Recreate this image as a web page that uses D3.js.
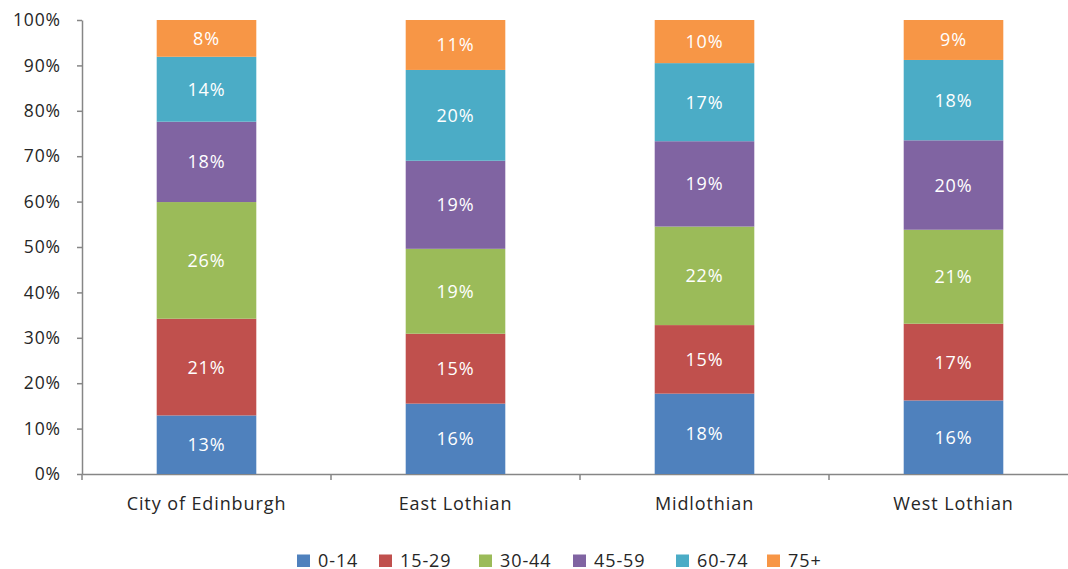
<!DOCTYPE html>
<html>
<head>
<meta charset="utf-8">
<script src="https://cdn.jsdelivr.net/npm/d3@7"></script>
<style>
  html, body { margin: 0; padding: 0; background: #fff; }
  svg { display: block; }
  text { font-family: "Open Sans", "DejaVu Sans", sans-serif; letter-spacing: 0.9px; }
</style>
</head>
<body>
<svg id="chart" width="1068" height="569"></svg>
<script>
const categories = ["City of Edinburgh", "East Lothian", "Midlothian", "West Lothian"];
const seriesNames = ["0-14", "15-29", "30-44", "45-59", "60-74", "75+"];
const colors = ["#4F81BD", "#C0504D", "#9BBB59", "#8064A2", "#4BACC6", "#F79646"];
// percentage share of each age band per area
const age0_14  = [12.9, 15.5, 17.7, 16.2];
const age15_29 = [21.3, 15.4, 15.1, 16.9];
const age30_44 = [25.7, 18.7, 21.7, 20.7];
const age45_59 = [17.7, 19.4, 18.8, 19.7];
const age60_74 = [14.3, 20.0, 17.2, 17.7];
const age75p   = [8.1, 11.0, 9.5, 8.8];
const yTicks = [0, 10, 20, 30, 40, 50, 60, 70, 80, 90, 100];

const seriesValues = [age0_14, age15_29, age30_44, age45_59, age60_74, age75p];
const rows = categories.map((c, i) => {
  const r = { category: c };
  seriesNames.forEach((s, j) => r[s] = seriesValues[j][i]);
  return r;
});

const svg = d3.select("#chart");
const mLeft = 82, mRight = 1078, mTop = 20, mBottom = 474;
const textColor = "#262626";

const x = d3.scaleBand().domain(categories).range([mLeft, mRight]).paddingInner(0.6).paddingOuter(0.3);
const y = d3.scaleLinear().domain([0, 100]).range([mBottom, mTop]);

const stack = d3.stack().keys(seriesNames);
const stacked = stack(rows);

// y axis
const yAxis = d3.axisLeft(y).tickValues(yTicks).tickFormat(d => d + "%").tickSize(5).tickSizeOuter(0);
const gy = svg.append("g").attr("transform", `translate(${mLeft},0)`).call(yAxis);
gy.select(".domain").attr("stroke", "#868686").attr("stroke-width", 1.5);
gy.selectAll(".tick line").attr("stroke", "#868686").attr("stroke-width", 1.5);
gy.selectAll(".tick text").attr("x", -21).attr("fill", textColor)
  .style("font-size", "17.5px").style("font-family", "'Open Sans', sans-serif");

// x axis
const xAxis = d3.axisBottom(x).tickSize(0).tickSizeOuter(0);
const gx = svg.append("g").attr("transform", `translate(0,${mBottom})`).call(xAxis);
gx.select(".domain").attr("stroke", "#868686").attr("stroke-width", 1.5);
gx.selectAll(".tick text").attr("y", 36).attr("dy", "0").attr("fill", textColor)
  .style("font-size", "18px").style("font-family", "'Open Sans', sans-serif");
// category boundary ticks
const bounds = d3.range(categories.length + 1).map(i => mLeft + i * (mRight - mLeft) / categories.length);
gx.selectAll(".bound").data(bounds).join("line")
  .attr("class", "bound")
  .attr("x1", d => d).attr("x2", d => d)
  .attr("y1", 0).attr("y2", 6)
  .attr("stroke", "#868686").attr("stroke-width", 1.5);

// bars
const layers = svg.append("g").selectAll("g").data(stacked).join("g")
  .attr("fill", (d, i) => colors[i]);
layers.selectAll("rect").data(d => d).join("rect")
  .attr("x", d => x(d.data.category))
  .attr("width", x.bandwidth())
  .attr("y", d => y(d[1]))
  .attr("height", d => y(d[0]) - y(d[1]));

// labels
const labelG = svg.append("g");
stacked.forEach(layer => {
  labelG.selectAll(null).data(layer).join("text")
    .attr("x", d => x(d.data.category) + x.bandwidth() / 2)
    .attr("y", d => (y(d[0]) + y(d[1])) / 2)
    .attr("dy", "0.36em")
    .attr("text-anchor", "middle")
    .attr("fill", "#fff")
    .style("font-size", "18px")
    .text(d => Math.round(d[1] - d[0]) + "%");
});

// legend
const legendX = [297, 379, 479, 573, 676, 767];
const lg = svg.append("g");
seriesNames.forEach((s, i) => {
  const g = lg.append("g").attr("transform", `translate(${legendX[i]},554.5)`);
  g.append("rect").attr("width", 13).attr("height", 12.5).attr("fill", colors[i]);
  g.append("text").attr("x", 21).attr("y", 6.3).attr("dy", "0.36em")
    .attr("fill", textColor).style("font-size", "18px").text(s);
});
</script>
</body>
</html>
